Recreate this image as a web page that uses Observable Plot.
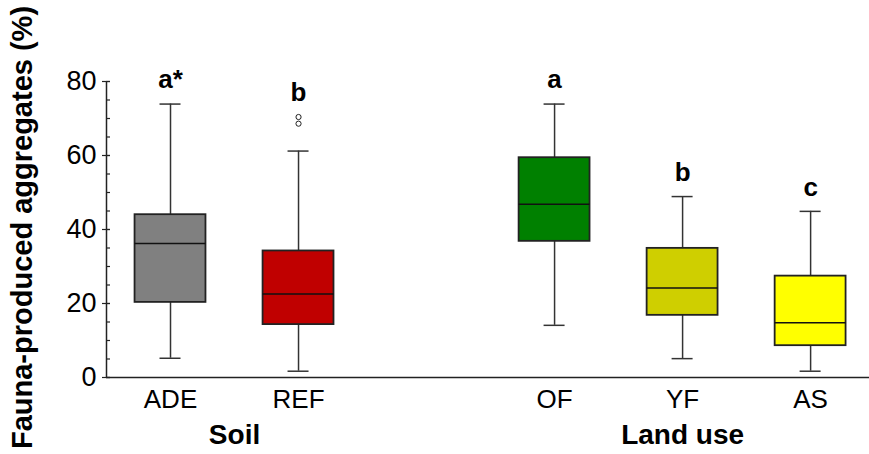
<!DOCTYPE html>
<html>
<head>
<meta charset="utf-8">
<script src="https://cdn.jsdelivr.net/npm/d3@7"></script>
<script src="https://cdn.jsdelivr.net/npm/@observablehq/plot@0.6"></script>
<style>
  html, body { margin: 0; padding: 0; background: #fff; }
  svg { font-family: "Liberation Sans", Arial, Helvetica, sans-serif; }
</style>
</head>
<body>
<div id="chart"></div>
<script>
// ---- data ----
const categories  = ["ADE", "REF", "OF", "YF", "AS"];
const groups      = ["Soil", "Soil", "Land use", "Land use", "Land use"];
const whiskerLow  = [5.2, 1.7, 14.1, 5.1, 1.7];
const q1          = [20.3, 14.3, 36.8, 16.8, 8.6];
const median      = [36.2, 22.6, 46.8, 24.2, 14.8];
const q3          = [44.0, 34.2, 59.4, 34.9, 27.4];
const whiskerHigh = [73.9, 61.2, 73.9, 48.9, 44.9];
const outlierCats = ["REF", "REF"];
const outlierVals = [70.4, 68.6];
const letters     = ["a*", "b", "a", "b", "c"];
const colors      = ["#808080", "#c00000", "#008000", "#cfcf00", "#ffff00"];
const yTicks      = [0, 20, 40, 60, 80];
const yMinorTicks = d3.range(0, 81, 5);
const yLabel      = "Fauna-produced aggregates (%)";

// slot index: a one-slot gap separates the two groups
const groupNames = Array.from(new Set(groups));
const slotOf = (i) => i + groupNames.indexOf(groups[i]);

const boxes = categories.map((c, i) => ({
  cat: c, slot: slotOf(i), lo: whiskerLow[i], q1: q1[i], med: median[i],
  q3: q3[i], hi: whiskerHigh[i], letter: letters[i], color: colors[i]
}));
const outliers = outlierCats.map((c, i) => ({slot: slotOf(categories.indexOf(c)), v: outlierVals[i]}));
const letterPos = boxes.map(b => ({
  slot: b.slot, letter: b.letter,
  top: Math.max(b.hi, ...outliers.filter(o => o.slot === b.slot).map(o => o.v))
}));
const groupLabels = groupNames.map(g => {
  const s = boxes.filter((b, i) => groups[i] === g).map(b => b.slot);
  return {name: g, slot: d3.mean(s)};
});

const halfBox = 0.277, halfCap = 0.082;
const ink = "#222";

const chart = Plot.plot({
  width: 869,
  height: 454,
  marginLeft: 106,
  marginRight: 0,
  marginTop: 81,
  marginBottom: 77,
  style: {fontFamily: "'Liberation Sans', Arial, Helvetica, sans-serif", background: "#fff"},
  x: {domain: [-0.5, 5.46], axis: null},
  y: {domain: [0, 80], axis: null},
  marks: [
    // whiskers
    Plot.ruleX(boxes, {x: "slot", y1: "q3", y2: "hi", stroke: "#333", strokeWidth: 1.5}),
    Plot.ruleX(boxes, {x: "slot", y1: "lo", y2: "q1", stroke: "#333", strokeWidth: 1.5}),
    Plot.ruleY(boxes, {y: "hi", x1: d => d.slot - halfCap, x2: d => d.slot + halfCap, stroke: "#333", strokeWidth: 1.5}),
    Plot.ruleY(boxes, {y: "lo", x1: d => d.slot - halfCap, x2: d => d.slot + halfCap, stroke: "#333", strokeWidth: 1.5}),
    // boxes
    Plot.rect(boxes, {x1: d => d.slot - halfBox, x2: d => d.slot + halfBox, y1: "q1", y2: "q3",
      fill: "color", stroke: ink, strokeWidth: 1.8}),
    Plot.ruleY(boxes, {y: "med", x1: d => d.slot - halfBox, x2: d => d.slot + halfBox, stroke: "#111", strokeWidth: 1.5}),
    // outliers
    Plot.dot(outliers, {x: "slot", y: "v", r: 2.6, stroke: "#222", strokeWidth: 1, fill: "none"}),
    // significance letters
    Plot.text(letterPos, {x: "slot", y: "top", text: "letter", dy: -24, fontSize: 26, fontWeight: "bold", fill: "#000"}),
    // axes
    Plot.ruleY([0], {stroke: "#222", strokeWidth: 1.5}),
    Plot.ruleX([-0.5], {y1: 0, y2: 80, stroke: "#222", strokeWidth: 1.5}),
    Plot.axisY({ticks: yTicks, tickSize: 0, tickPadding: 10, fontSize: 27, fill: "#000", label: null}),
    Plot.axisY({ticks: yTicks, tickSize: 8, dx: 4, tickFormat: () => "", stroke: "#222", strokeWidth: 1.2, label: null}),
    Plot.axisY({ticks: yMinorTicks, tickSize: 4, tickFormat: () => "", stroke: "#222", strokeWidth: 1.2, dx: 4, label: null}),
    Plot.axisX({ticks: boxes.map(b => b.slot), tickFormat: s => boxes.find(b => b.slot === s).cat,
      tickSize: 0, tickPadding: 12, fontSize: 26, fill: "#000", label: null}),
    Plot.text(groupLabels, {x: "slot", text: "name", frameAnchor: "bottom", dy: 66, fontSize: 28, fontWeight: "bold", fill: "#000"}),
    Plot.text([yLabel], {frameAnchor: "left", textAnchor: "middle", rotate: -90, dx: -84, dy: -2, fontSize: 29, fontWeight: "bold", fill: "#000"})
  ]
});
document.getElementById("chart").appendChild(chart);
</script>
</body>
</html>
